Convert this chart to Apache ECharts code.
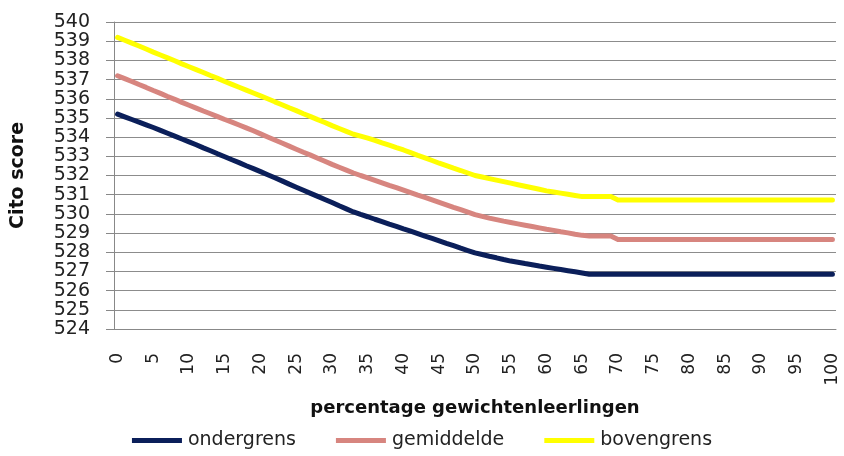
<!DOCTYPE html>
<html>
<head>
<meta charset="utf-8">
<script src="https://cdn.jsdelivr.net/npm/echarts@6/dist/echarts.min.js"></script>
<style>
  html, body { margin: 0; padding: 0; background: #fff; }
  #chart1 { width: 844px; height: 456px; }
</style>
</head>
<body>
<div id="chart1"></div>
<script>
// waarden, per procent 0..100
var percentages = [];
for (var p = 0; p <= 100; p++) { percentages.push(String(p)); }

var ondergrens = [
  535.2, 535.06, 534.92, 534.78, 534.64, 534.5, 534.35, 534.2, 534.05, 533.9,
  533.75, 533.6, 533.44, 533.29, 533.13, 532.98, 532.82, 532.67, 532.51, 532.36,
  532.2, 532.04, 531.88, 531.72, 531.55, 531.39, 531.23, 531.07, 530.91, 530.75,
  530.59, 530.42, 530.26, 530.1, 529.97, 529.85, 529.72, 529.6, 529.47, 529.35,
  529.22, 529.1, 528.97, 528.84, 528.72, 528.59, 528.46, 528.34, 528.21, 528.09,
  527.97, 527.88, 527.79, 527.71, 527.62, 527.54, 527.48, 527.41, 527.35, 527.28,
  527.22, 527.16, 527.1, 527.04, 526.98, 526.92, 526.85, 526.85, 526.85, 526.85,
  526.85, 526.85, 526.85, 526.85, 526.85, 526.85, 526.85, 526.85, 526.85, 526.85,
  526.85, 526.85, 526.85, 526.85, 526.85, 526.85, 526.85, 526.85, 526.85, 526.85,
  526.85, 526.85, 526.85, 526.85, 526.85, 526.85, 526.85, 526.85, 526.85, 526.85,
  526.85
];

var gemiddelde = [
  537.2, 537.05, 536.9, 536.74, 536.59, 536.43, 536.28, 536.12, 535.97, 535.81,
  535.66, 535.51, 535.36, 535.22, 535.07, 534.92, 534.78, 534.63, 534.48, 534.33,
  534.17, 534.01, 533.85, 533.69, 533.53, 533.37, 533.21, 533.06, 532.9, 532.74,
  532.58, 532.43, 532.28, 532.13, 532.0, 531.88, 531.75, 531.62, 531.49, 531.37,
  531.24, 531.11, 530.98, 530.86, 530.73, 530.6, 530.47, 530.34, 530.22, 530.09,
  529.96, 529.87, 529.78, 529.7, 529.62, 529.55, 529.48, 529.41, 529.34, 529.27,
  529.2, 529.14, 529.07, 529.01, 528.94, 528.88, 528.85, 528.85, 528.85, 528.85,
  528.67, 528.67, 528.67, 528.67, 528.67, 528.67, 528.67, 528.67, 528.67, 528.67,
  528.67, 528.67, 528.67, 528.67, 528.67, 528.67, 528.67, 528.67, 528.67, 528.67,
  528.67, 528.67, 528.67, 528.67, 528.67, 528.67, 528.67, 528.67, 528.67, 528.67,
  528.67
];

var bovengrens = [
  539.2, 539.05, 538.9, 538.75, 538.59, 538.43, 538.28, 538.13, 537.98, 537.82,
  537.67, 537.52, 537.37, 537.21, 537.06, 536.9, 536.75, 536.6, 536.45, 536.3,
  536.15, 536.0, 535.84, 535.69, 535.53, 535.38, 535.22, 535.07, 534.91, 534.76,
  534.6, 534.45, 534.3, 534.15, 534.05, 533.95, 533.83, 533.7, 533.58, 533.45,
  533.33, 533.19, 533.05, 532.92, 532.78, 532.64, 532.51, 532.38, 532.26, 532.13,
  532.0, 531.92, 531.84, 531.76, 531.68, 531.6, 531.52, 531.44, 531.36, 531.28,
  531.2, 531.14, 531.08, 531.02, 530.96, 530.9, 530.9, 530.9, 530.9, 530.9,
  530.72, 530.72, 530.72, 530.72, 530.72, 530.72, 530.72, 530.72, 530.72, 530.72,
  530.72, 530.72, 530.72, 530.72, 530.72, 530.72, 530.72, 530.72, 530.72, 530.72,
  530.72, 530.72, 530.72, 530.72, 530.72, 530.72, 530.72, 530.72, 530.72, 530.72,
  530.72
];

var yMin = 524;
var yMax = 540;

var _chart1 = echarts.init(document.getElementById('chart1'));

function lijn(naam, kleur, data) {
    return {
        name: naam,
        type: 'line',
        data: data,
        symbol: 'none',
        smooth: false,
        lineStyle: { color: kleur, width: 5, cap: 'round', join: 'round' },
        itemStyle: { color: kleur }
    };
}

var option = {
    animation: false,
    backgroundColor: '#fff',
    textStyle: { fontFamily: 'DejaVu Sans' },
    grid: { left: 114, right: 8, top: 22, bottom: 127 },
    legend: {
        bottom: 1,
        left: 'center',
        icon: 'rect',
        itemWidth: 50,
        itemHeight: 5,
        itemGap: 40,
        textStyle: { fontSize: 19, color: '#222', fontFamily: 'DejaVu Sans', padding: [0, 0, 0, 1] },
        data: ['ondergrens', 'gemiddelde', 'bovengrens']
    },
    xAxis: {
        type: 'category',
        boundaryGap: true,
        data: percentages,
        name: 'percentage gewichtenleerlingen',
        nameLocation: 'middle',
        nameGap: 70,
        nameTextStyle: { fontSize: 18, fontWeight: 'bold', color: '#111', fontFamily: 'DejaVu Sans' },
        axisLine: { lineStyle: { color: '#888', width: 1 } },
        axisTick: { interval: 0, length: 6, lineStyle: { color: '#888' } },
        axisLabel: { interval: 4, rotate: 90, margin: 24, fontSize: 17, color: '#222' },
        splitLine: { show: false }
    },
    yAxis: {
        type: 'value',
        min: yMin,
        max: yMax,
        interval: 1,
        name: 'Cito score',
        nameLocation: 'middle',
        nameGap: 86,
        nameTextStyle: { fontSize: 19, fontWeight: 'bold', color: '#111', fontFamily: 'DejaVu Sans' },
        axisLine: { show: true, lineStyle: { color: '#888', width: 1 } },
        axisTick: { show: true, length: 8, lineStyle: { color: '#888' } },
        axisLabel: { margin: 24, fontSize: 19, color: '#222' },
        splitLine: { lineStyle: { color: '#8c8c8c', width: 1 } }
    },
    series: [
        lijn('ondergrens', '#0b1f5a', ondergrens),
        lijn('gemiddelde', '#d7857f', gemiddelde),
        lijn('bovengrens', '#ffff00', bovengrens)
    ]
};

_chart1.setOption(option);
</script>
</body>
</html>
